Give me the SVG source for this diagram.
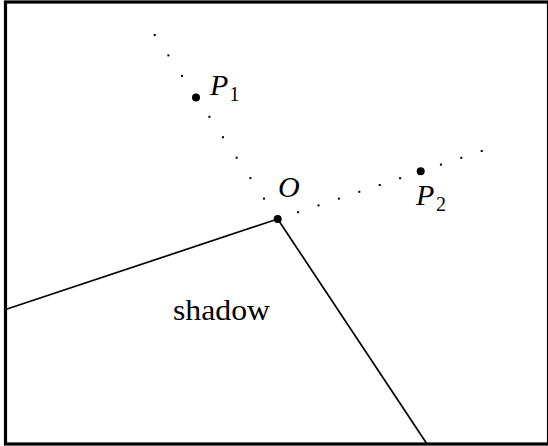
<svg xmlns="http://www.w3.org/2000/svg" width="548" height="446" viewBox="0 0 548 446">
<style>
.frame{fill:none;stroke:#000;stroke-width:3.2}
.edge{fill:none;stroke:#000;stroke-width:1.7}
.pt{fill:#000}
.sd{fill:#000}
.lab{font-family:"Liberation Serif","Times New Roman",serif;font-style:italic;fill:#000}
.sub{font-family:"Liberation Serif","Times New Roman",serif;fill:#000}
.txt{font-family:"Liberation Serif","Times New Roman",serif;fill:#000}
</style>
<rect class="frame" x="5.5" y="2" width="543" height="442"/>
<g id="connectors">
<line class="edge" x1="4" y1="310" x2="277.7" y2="219"/>
<line class="edge" x1="277.7" y1="219" x2="427" y2="444"/>
<g id="ray1">
<rect class="sd" x="153.7" y="34" width="2" height="2"/>
<rect class="sd" x="167.4" y="54.4" width="2" height="2"/>
<rect class="sd" x="181" y="74.9" width="2" height="2"/>
<rect class="sd" x="208.4" y="115.8" width="2" height="2"/>
<rect class="sd" x="222" y="136.2" width="2" height="2"/>
<rect class="sd" x="235.7" y="156.7" width="2" height="2"/>
<rect class="sd" x="249.4" y="177.1" width="2" height="2"/>
<rect class="sd" x="263" y="197.6" width="2" height="2"/>
</g>
<g id="ray2">
<rect class="sd" x="297.1" y="211.2" width="2" height="2"/>
<rect class="sd" x="317.5" y="204.4" width="2" height="2"/>
<rect class="sd" x="337.9" y="197.6" width="2" height="2"/>
<rect class="sd" x="358.3" y="190.8" width="2" height="2"/>
<rect class="sd" x="378.7" y="184" width="2" height="2"/>
<rect class="sd" x="399.1" y="177.2" width="2" height="2"/>
<rect class="sd" x="439.9" y="163.6" width="2" height="2"/>
<rect class="sd" x="460.3" y="156.8" width="2" height="2"/>
<rect class="sd" x="480.7" y="150" width="2" height="2"/>
</g>
</g>
<g id="P1">
<circle class="pt" cx="196" cy="97.5" r="4"/>
<text class="lab" x="210" y="95" font-size="30">P</text>
<text class="sub" x="229.5" y="101" font-size="20">1</text>
</g>
<g id="O">
<circle class="pt" cx="277.7" cy="219" r="4"/>
<text class="lab" x="278" y="196.5" font-size="30">O</text>
</g>
<g id="P2">
<circle class="pt" cx="420.7" cy="171.3" r="4"/>
<text class="lab" x="416" y="205" font-size="30">P</text>
<text class="sub" x="436" y="211" font-size="20">2</text>
</g>
<g id="shadow">
<text class="txt" x="173" y="320" font-size="30" textLength="97" lengthAdjust="spacingAndGlyphs">shadow</text>
</g>
</svg>
